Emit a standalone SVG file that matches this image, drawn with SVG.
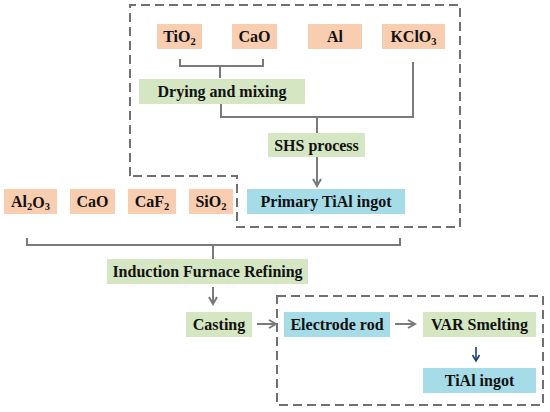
<svg xmlns="http://www.w3.org/2000/svg" width="550" height="412" viewBox="0 0 550 412">
<style>
.o{fill:#F9CDB0}
.g{fill:#D5E6C3}
.b{fill:#A6DCE8}
text{font-family:"Liberation Serif","Times New Roman",serif;font-weight:bold;font-size:16px;fill:#111;text-anchor:middle;dominant-baseline:central}
.ln{fill:none;stroke:#7a7a7a;stroke-width:2}
.dash{fill:none;stroke:#707070;stroke-width:2;stroke-dasharray:9,5}
.sub{font-size:10.5px}
</style>
<defs>
<marker id="ah" markerWidth="10" markerHeight="10" refX="8" refY="5" orient="auto" markerUnits="userSpaceOnUse">
<path d="M1,1 L8,5 L1,9" fill="none" stroke="#7a7a7a" stroke-width="2"/>
</marker>
<marker id="an" markerWidth="10" markerHeight="10" refX="8" refY="5" orient="auto" markerUnits="userSpaceOnUse">
<path d="M2,1.5 L8,5 L2,8.5" fill="none" stroke="#1f3b73" stroke-width="1.6"/>
</marker>
</defs>
<g id="frames">
<path class="dash" d="M130,176 V5 H460 V227 H237 V176 Z"/>
<rect class="dash" x="277" y="296" width="266" height="109"/>
</g>
<g id="connectors">
<path class="ln" d="M180,59 V66 H263 V59 M220,66 V78"/>
<path class="ln" d="M221,104 V117 H413 V62 M317,117 V133"/>
<path class="ln" d="M317,157 V186" marker-end="url(#ah)"/>
<path class="ln" d="M27,238 V245 H400 V238 M213,245 V259"/>
<path class="ln" d="M213,287 V304" marker-end="url(#ah)"/>
<path class="ln" d="M257,324 H276" marker-end="url(#ah)"/>
<path class="ln" d="M395,324 H415" marker-end="url(#ah)"/>
<path d="M476,347 V361" fill="none" stroke="#1f3b73" stroke-width="1.6" marker-end="url(#an)"/>
</g>
<g id="n-tio2"><rect class="o" x="157" y="24" width="45" height="25"/><text x="179.5" y="36.5">TiO<tspan class="sub" dy="4">2</tspan></text></g>
<g id="n-cao1"><rect class="o" x="232" y="24" width="45" height="25"/><text x="254.5" y="36.5">CaO</text></g>
<g id="n-al"><rect class="o" x="308" y="24" width="54" height="25"/><text x="335" y="36.5">Al</text></g>
<g id="n-kclo3"><rect class="o" x="382" y="24" width="63" height="25"/><text x="413.5" y="36.5">KClO<tspan class="sub" dy="4">3</tspan></text></g>
<g id="n-drying"><rect class="g" x="139" y="79" width="166" height="25"/><text x="222" y="91.5">Drying and mixing</text></g>
<g id="n-shs"><rect class="g" x="268" y="133" width="97" height="24"/><text x="316.5" y="145">SHS process</text></g>
<g id="n-primary"><rect class="b" x="247" y="189" width="158" height="25"/><text x="326" y="201.5">Primary TiAl ingot</text></g>
<g id="n-al2o3"><rect class="o" x="4" y="189" width="53" height="25"/><text x="30.5" y="201.5">Al<tspan class="sub" dy="4">2</tspan><tspan dy="-4">O</tspan><tspan class="sub" dy="4">3</tspan></text></g>
<g id="n-cao2"><rect class="o" x="70" y="189" width="45" height="25"/><text x="92.5" y="201.5">CaO</text></g>
<g id="n-caf2"><rect class="o" x="128" y="189" width="48" height="25"/><text x="152" y="201.5">CaF<tspan class="sub" dy="4">2</tspan></text></g>
<g id="n-sio2"><rect class="o" x="189" y="189" width="44" height="25"/><text x="211" y="201.5">SiO<tspan class="sub" dy="4">2</tspan></text></g>
<g id="n-induction"><rect class="g" x="107" y="259" width="201" height="25"/><text x="207.5" y="271.5">Induction Furnace Refining</text></g>
<g id="n-casting"><rect class="g" x="186" y="312" width="66" height="25"/><text x="219" y="324.5">Casting</text></g>
<g id="n-electrode"><rect class="b" x="284" y="312" width="106" height="25"/><text x="337" y="324.5">Electrode rod</text></g>
<g id="n-var"><rect class="g" x="423" y="312" width="113" height="25"/><text x="479.5" y="324.5">VAR Smelting</text></g>
<g id="n-tial"><rect class="b" x="423" y="368" width="113" height="25"/><text x="479.5" y="380.5">TiAl ingot</text></g>
</svg>
